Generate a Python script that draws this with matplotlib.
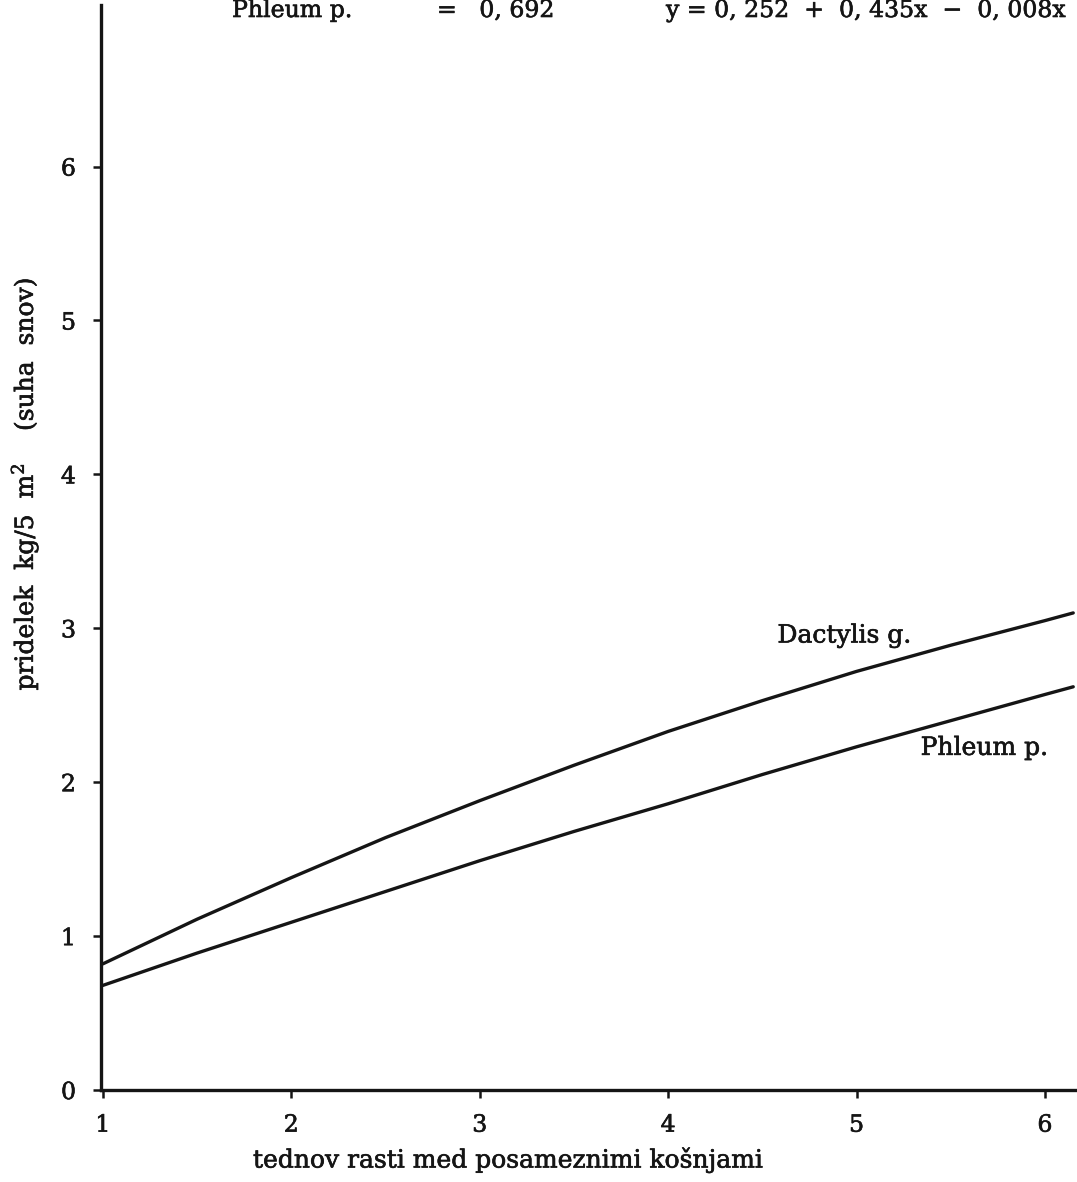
import matplotlib
matplotlib.use("Agg")
import matplotlib.pyplot as plt
import matplotlib.patheffects as pe

plt.rcParams["font.family"] = ["DejaVu Serif"]
plt.rcParams["mathtext.fontset"] = "dejavuserif"

# weeks of growth between cuts
weeks = [1.0, 1.5, 2.0, 2.5, 3.0, 3.5, 4.0, 4.5, 5.0, 5.5, 6.0, 6.15]
# dry-matter yield, kg / 5 m^2
dactylis = [0.82, 1.11, 1.38, 1.64, 1.88, 2.11, 2.33, 2.53, 2.72, 2.89, 3.05, 3.10]
phleum = [0.68, 0.89, 1.09, 1.29, 1.49, 1.68, 1.86, 2.05, 2.23, 2.40, 2.57, 2.62]

x_ticks = [1, 2, 3, 4, 5, 6]
y_ticks = [0, 1, 2, 3, 4, 5, 6]

ink = "#151515"
heavy = [pe.withStroke(linewidth=0.45, foreground=ink)]
fs = 18

fig = plt.figure(figsize=(10.77, 11.82), dpi=100)
ax = fig.add_axes([0.0938, 0.0778, 0.9062, 0.918])

ax.plot(weeks, dactylis, color=ink, lw=2.4, solid_capstyle="round")
ax.plot(weeks, phleum, color=ink, lw=2.4, solid_capstyle="round")

ax.set_xlim(0.99, 6.17)
ax.set_ylim(0, 7.05)
ax.set_xticks(x_ticks)
ax.set_yticks(y_ticks)
ax.set_xticklabels([str(v) for v in x_ticks])
ax.set_yticklabels([str(v) for v in y_ticks])

for s in ("top", "right"):
    ax.spines[s].set_visible(False)
for s in ("left", "bottom"):
    ax.spines[s].set_linewidth(2.4)
    ax.spines[s].set_color(ink)

ax.tick_params(axis="x", direction="out", length=6, width=1.8, pad=11,
               labelsize=17, colors=ink)
ax.tick_params(axis="y", direction="out", length=6, width=1.8, pad=12,
               labelsize=17, colors=ink)
for lab in ax.get_xticklabels() + ax.get_yticklabels():
    lab.set_path_effects(heavy)

ax.set_xlabel("tednov rasti med posameznimi košnjami", fontsize=fs,
              color=ink, path_effects=heavy, va="center")
ax.xaxis.set_label_coords(0.417, -0.0645)
ax.set_ylabel("pridelek  kg/5  m$^{2}$    (suha  snov)", fontsize=fs,
              color=ink, path_effects=heavy)
ax.yaxis.set_label_coords(-0.0625, 0.5585)

ax.text(4.58, 2.95, "Dactylis g.", fontsize=fs, color=ink, va="center",
        path_effects=heavy)
ax.text(5.34, 2.22, "Phleum p.", fontsize=fs, color=ink, va="center",
        path_effects=heavy)

# regression header line along the top edge
ytop = 1 - 17 / 1182
fig.text(232 / 1077, ytop, "Phleum p.", fontsize=17, color=ink,
         va="baseline", path_effects=heavy)
fig.text(437 / 1077, ytop, "=   0, 692", fontsize=17, color=ink,
         va="baseline", path_effects=heavy)
fig.text(666 / 1077, ytop, "y = 0, 252  +  0, 435x  \u2212  0, 008x",
         fontsize=17, color=ink, va="baseline", path_effects=heavy)

fig.savefig("out.png", dpi=100, facecolor="white")
